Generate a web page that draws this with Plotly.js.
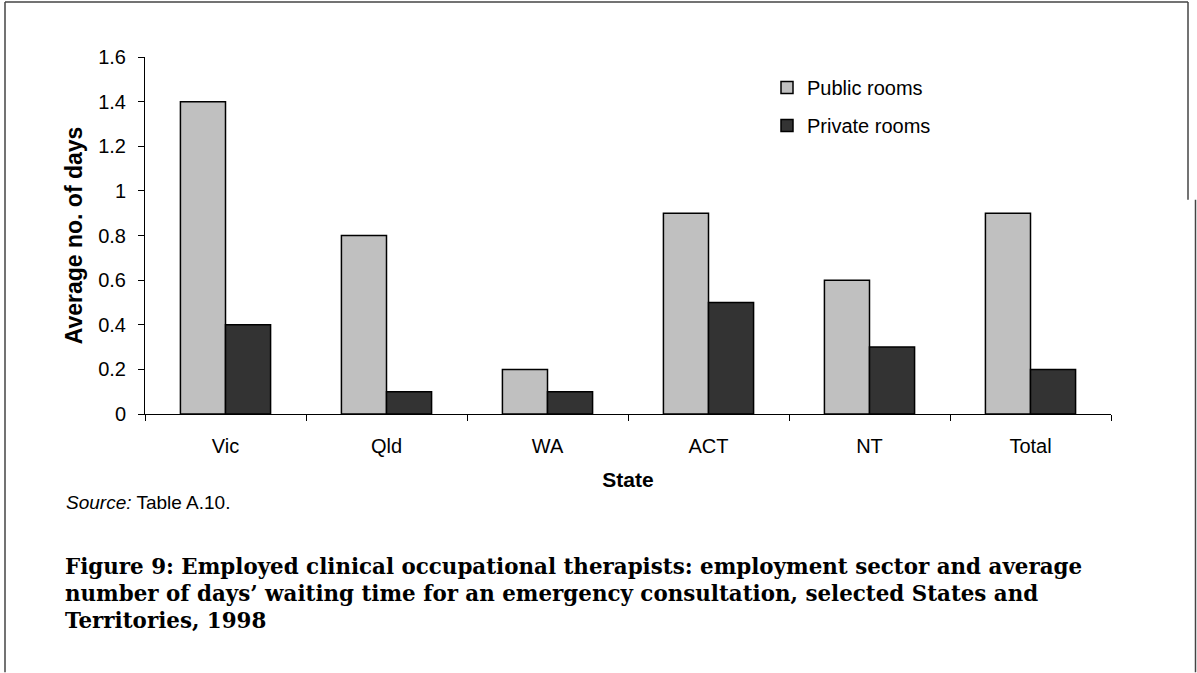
<!DOCTYPE html>
<html>
<head>
<meta charset="utf-8">
<script src="https://cdn.plot.ly/plotly-3.0.1.min.js"></script>
<style>
html,body{margin:0;padding:0;background:#fff;}
#chart{width:1197px;height:673px;}
</style>
</head>
<body>
<div id="chart"></div>
<script>
// ---- data ----
var states = ["Vic", "Qld", "WA", "ACT", "NT", "Total"];
var publicRooms = [1.4, 0.8, 0.2, 0.9, 0.6, 0.9];
var privateRooms = [0.4, 0.1, 0.1, 0.5, 0.3, 0.2];
var seriesNames = ["Public rooms", "Private rooms"];
var yTicks = [0, 0.2, 0.4, 0.6, 0.8, 1, 1.2, 1.4, 1.6];
var yTickText = ["0", "0.2", "0.4", "0.6", "0.8", "1", "1.2", "1.4", "1.6"];
var titleLines = [
  "Figure 9: Employed clinical occupational therapists: employment sector and average",
  "number of days\u2019 waiting time for an emergency consultation, selected States and",
  "Territories, 1998"
];

// ---- layout geometry (pixels) ----
var W = 1197, H = 673;
var L = 145, R = 1111, T = 57, B = 414.5;
function px(x){ return (x - L) / (R - L); }
function py(y){ return (B - y) / (B - T); }

var sans = "Liberation Sans, Arial, sans-serif";
var serif = "DejaVu Serif, Liberation Serif, serif";

var traces = [
  {
    type: "bar", x: states, y: publicRooms, name: seriesNames[0],
    marker: {color: "#c0c0c0", line: {color: "#000", width: 1.5}},
    legendgroup: "a", hoverinfo: "x+y"
  },
  {
    type: "bar", x: states, y: privateRooms, name: seriesNames[1],
    marker: {color: "#333333", line: {color: "#000", width: 1.5}},
    legendgroup: "b", hoverinfo: "x+y"
  }
];

var frameColor = "#444";
var shapes = [
  {type: "line", xref: "paper", yref: "paper", x0: px(5), x1: px(1188), y0: py(2), y1: py(2), line: {color: frameColor, width: 1.5}},
  {type: "line", xref: "paper", yref: "paper", x0: px(5), x1: px(5), y0: py(2), y1: py(673), line: {color: frameColor, width: 1.5}},
  {type: "line", xref: "paper", yref: "paper", x0: px(1188), x1: px(1188), y0: py(2), y1: py(200), line: {color: frameColor, width: 1.5}},
  {type: "line", xref: "paper", yref: "paper", x0: px(1195.5), x1: px(1195.5), y0: py(200), y1: py(673), line: {color: frameColor, width: 1.5}}
];

var annotations = [
  {xref: "paper", yref: "paper", x: px(64), y: py(503), xanchor: "left", yanchor: "middle",
   text: "<i>Source:</i> Table A.10.", showarrow: false, font: {family: sans, size: 19, color: "#000"}}
];
var lineY = [567, 594, 621];
for (var i = 0; i < titleLines.length; i++) {
  annotations.push({
    xref: "paper", yref: "paper", x: px(65), y: py(lineY[i]), xanchor: "left", yanchor: "middle",
    text: "<b>" + titleLines[i] + "</b>", showarrow: false, borderpad: 0, borderwidth: 0,
    font: {family: serif, size: 21.4, color: "#000"}
  });
}

var layout = {
  width: W, height: H,
  margin: {l: L, r: W - R, t: T, b: H - B, pad: 0},
  paper_bgcolor: "#fff", plot_bgcolor: "#fff",
  barmode: "group", bargap: 0.44, bargroupgap: 0,
  showlegend: true,
  legend: {
    x: px(767), y: py(68), xanchor: "left", yanchor: "top",
    font: {family: sans, size: 20, color: "#000"},
    traceorder: "grouped", tracegroupgap: 9,
    bgcolor: "rgba(0,0,0,0)", itemwidth: 30
  },
  xaxis: {
    type: "category",
    showline: true, linecolor: "#000", linewidth: 1,
    ticks: "outside", ticklen: 6, tickcolor: "#000", tickson: "boundaries",
    showgrid: false, zeroline: false,
    ticklabelstandoff: 14,
    tickfont: {family: sans, size: 20, color: "#000"},
    title: {text: "<b>State</b>", font: {family: sans, size: 21, color: "#000"}, standoff: 16}
  },
  yaxis: {
    range: [0, 1.6],
    tickvals: yTicks, ticktext: yTickText,
    showline: true, linecolor: "#000", linewidth: 1,
    ticks: "outside", ticklen: 6, tickcolor: "#000",
    showgrid: false, zeroline: false,
    ticklabelstandoff: 8,
    tickfont: {family: sans, size: 20, color: "#000"},
    title: {text: "<b>Average no. of days</b>", font: {family: sans, size: 23, color: "#000"}, standoff: 9}
  },
  shapes: shapes,
  annotations: annotations
};

Plotly.newPlot("chart", traces, layout, {displayModeBar: false, staticPlot: true});
</script>
</body>
</html>
